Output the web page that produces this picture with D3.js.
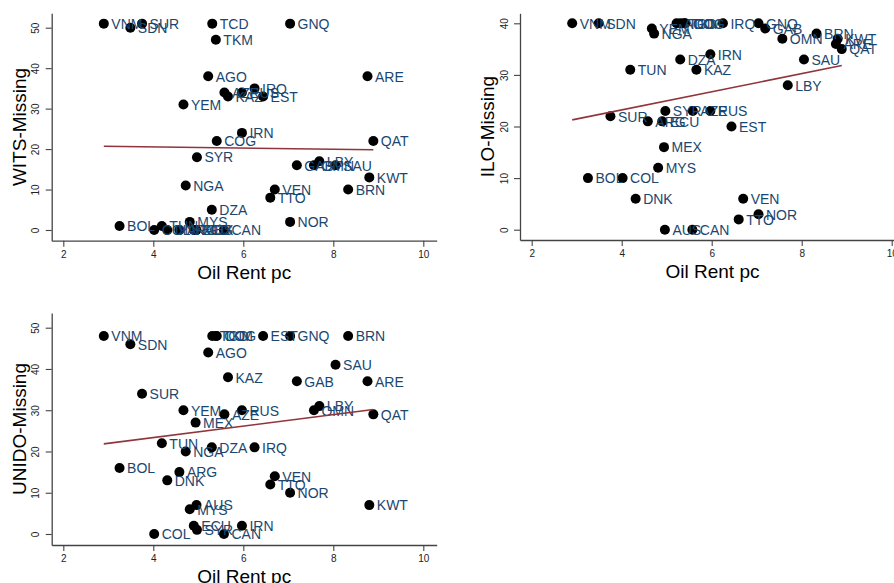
<!DOCTYPE html>
<html>
<head>
<meta charset="utf-8">
<script src="https://cdn.jsdelivr.net/npm/d3@7"></script>
<style>
  body { margin: 0; background: #fff; }
  svg { display: block; font-family: "Liberation Sans", Arial, sans-serif; }
</style>
</head>
<body>
<div id="chart"></div>
<script>
// oil rent per capita (log) by country, same in every panel
const countries = ["VNM","SDN","SUR","BOL","COL","TUN","DNK","ARG","YEM","NGA","MYS","ECU","MEX","AUS","SYR",
  "AGO","DZA","TCD","TKM","COG","CAN","AZE","KAZ","RUS","IRN","IRQ","EST","TTO","VEN","GNQ","NOR","GAB",
  "OMN","LBY","SAU","BRN","ARE","KWT","QAT"];
const oilRent = [2.90,3.49,3.75,3.25,4.02,4.19,4.31,4.58,4.67,4.72,4.81,4.90,4.94,4.96,4.97,
  5.22,5.30,5.31,5.39,5.41,5.57,5.58,5.66,5.97,5.97,6.25,6.44,6.60,6.70,7.04,7.04,7.19,
  7.57,7.69,8.05,8.33,8.76,8.80,8.89];

const witsMissing = [51,50,51,1,0,1,0,0,31,11,2,0,0,0,18,
  38,5,51,47,22,0,34,33,34,24,35,33,8,10,51,2,16,
  16,17,16,10,38,13,22];
const iloMissing = [40,40,22,10,10,31,6,21,39,38,12,21,16,0,23,
  40,33,40,40,40,0,23,31,23,34,40,20,2,6,40,3,39,
  37,28,33,38,36,37,35];
const unidoMissing = [48,46,34,16,0,22,13,15,30,20,6,2,27,7,1,
  44,21,48,48,48,0,29,38,30,2,21,48,12,14,48,10,37,
  30,31,41,48,37,7,29];

const xTicks = [2, 4, 6, 8, 10];

const W = 894, H = 583;
const svg = d3.select("#chart").append("svg").attr("width", W).attr("height", H);

const panels = [
  { title: "WITS-Missing", values: witsMissing, yTicks: [0,10,20,30,40,50],
    left: 51.7, right: 436.7, top: 13.3, bottom: 240.7, x2: 63.3, y0: 230, yTop: 50, yTopPx: 27.7 },
  { title: "ILO-Missing", values: iloMissing, yTicks: [0,10,20,30,40],
    left: 520, right: 905, top: 13.3, bottom: 240, x2: 531.7, y0: 229.7, yTop: 40, yTopPx: 23.3 },
  { title: "UNIDO-Missing", values: unidoMissing, yTicks: [0,10,20,30,40,50],
    left: 51.7, right: 436.7, top: 313, bottom: 545, x2: 63.3, y0: 534, yTop: 50, yTopPx: 327.7 }
];

panels.forEach(p => {
  const g = svg.append("g");
  const pxPerX = 45;
  const x = d3.scaleLinear()
    .domain([2 - (p.x2 - p.left) / pxPerX, 2 + (p.right - p.x2) / pxPerX])
    .range([p.left, p.right]);
  const pxPerY = (p.y0 - p.yTopPx) / p.yTop;
  const y = d3.scaleLinear()
    .domain([-(p.bottom - p.y0) / pxPerY, (p.y0 - p.top) / pxPerY])
    .range([p.bottom, p.top]);

  // axes
  const xAxis = g.append("g")
    .attr("transform", `translate(0,${p.bottom})`)
    .call(d3.axisBottom(x).tickValues(xTicks).tickSize(6).tickSizeOuter(0).tickPadding(4));
  const yAxis = g.append("g")
    .attr("transform", `translate(${p.left},0)`)
    .call(d3.axisLeft(y).tickValues(p.yTicks).tickSize(6).tickSizeOuter(0));
  [xAxis, yAxis].forEach(a => {
    a.select(".domain").attr("stroke", "#444").attr("stroke-width", 1.3);
    a.selectAll(".tick line").attr("stroke", "#444").attr("stroke-width", 1.1);
    a.selectAll("text").attr("fill", "#222").style("font-size", "10px")
      .style("font-family", "'Liberation Sans', Arial, sans-serif");
  });
  // stata style: y tick labels standing on end
  yAxis.selectAll(".tick text")
    .attr("x", null).attr("y", null)
    .attr("transform", "translate(-16,0) rotate(-90)")
    .attr("text-anchor", "middle")
    .attr("dy", "0.35em");

  // axis titles
  g.append("text")
    .attr("x", (p.left + p.left + 385) / 2)
    .attr("y", p.bottom + 38)
    .attr("text-anchor", "middle")
    .style("font-size", "19px")
    .attr("fill", "#000")
    .text("Oil Rent pc");
  g.append("text")
    .attr("transform", `translate(${p.left - 26},${(p.top + p.bottom) / 2}) rotate(-90)`)
    .attr("text-anchor", "middle")
    .style("font-size", "19px")
    .attr("fill", "#000")
    .text(p.title);

  // points
  const data = countries.map((c, i) => ({ c, x: oilRent[i], y: p.values[i] }));
  g.selectAll("circle").data(data).enter().append("circle")
    .attr("cx", d => x(d.x))
    .attr("cy", d => y(d.y))
    .attr("r", 5)
    .attr("fill", "#000");
  g.selectAll("text.lbl").data(data).enter().append("text")
    .attr("class", "lbl")
    .attr("x", d => x(d.x) + 7.5)
    .attr("y", d => y(d.y))
    .attr("dy", "0.38em")
    .style("font-size", "14px")
    .attr("fill", "#1a476f")
    .text(d => d.c);

  // linear fit
  const mx = d3.mean(data, d => d.x), my = d3.mean(data, d => d.y);
  const b = d3.sum(data, d => (d.x - mx) * (d.y - my)) / d3.sum(data, d => (d.x - mx) ** 2);
  const a = my - b * mx;
  const [xmin, xmax] = d3.extent(data, d => d.x);
  g.append("line")
    .attr("x1", x(xmin)).attr("y1", y(a + b * xmin))
    .attr("x2", x(xmax)).attr("y2", y(a + b * xmax))
    .attr("stroke", "#90353b")
    .attr("stroke-width", 1.6);
});
</script>
</body>
</html>
